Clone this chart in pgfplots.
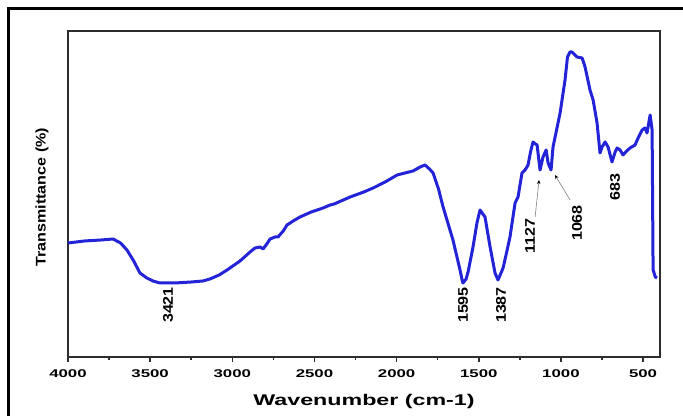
\documentclass[border=0pt]{standalone}
\usepackage{fontspec}
\setmainfont{Liberation Sans}
\usepackage{pgfplots}
\pgfplotsset{compat=1.18}
\usetikzlibrary{arrows.meta}
\definecolor{curve}{RGB}{35,35,215}
\definecolor{axc}{RGB}{45,45,45}
\newcommand{\pk}{\fontsize{14bp}{16bp}\selectfont\bfseries}
\begin{document}
\begin{tikzpicture}
\useasboundingbox (0bp,0bp) rectangle (683bp,416bp);
\draw[line width=3bp] (8.5bp,-10bp) -- (8.5bp,407.5bp) -- (700bp,407.5bp);
\begin{axis}[at={(68bp,59bp)}, anchor=south west, scale only axis,
  width=592bp, height=326bp,
  x dir=reverse, xmin=397, xmax=4000, ymin=0, ymax=326,
  xtick={500,1000,...,4000}, minor xtick={750,1250,...,3750}, ytick=\empty,
  xtick pos=left, tick align=outside,
  major tick length=5bp, minor tick length=3bp,
  axis line style={line width=2bp, color=axc},
  every tick/.style={line width=1.5bp, color=axc},
  /pgf/number format/1000 sep={},
  xticklabel style={font=\fontsize{11.2bp}{13bp}\selectfont\bfseries, inner sep=1bp, yshift=-6bp},
  xticklabel={\scalebox{1.5}[1]{\pgfmathprintnumber[assume math mode=true]{\tick}}},
  xlabel={\scalebox{1.5}[1]{Wavenumber (cm-1)}},
  every axis x label/.style={at={(axis description cs:0.5,0)}, anchor=center, yshift=-44bp,
     font=\fontsize{15.5bp}{18bp}\selectfont\bfseries},
  ylabel={\scalebox{1.15}[1]{Transmittance (\%)}},
  every axis y label/.style={at={([xshift=-26bp]axis description cs:0,0.49)}, anchor=center, rotate=90,
     font=\fontsize{14bp}{16bp}\selectfont\bfseries},
]
\addplot[curve, line width=3bp, line join=round] coordinates {
(4000,114) (3900,116) (3800,117) (3726,118) (3680,114) (3641,107) (3600,96)
(3562,84) (3520,79) (3483,76) (3440,74) (3350,74) (3250,75) (3180,76)
(3136,78) (3080,82) (3032,87) (2953,96) (2892,105) (2862,109) (2830,110)
(2813,108) (2790,113) (2770,118) (2740,120) (2722,120) (2690,126) (2667,132)
(2620,137) (2588,140) (2520,145) (2448,149) (2405,152) (2380,153) (2283,160)
(2200,165) (2143,169) (2070,175) (1997,182) (1950,184) (1900,186) (1857,190)
(1827,192) (1800,188) (1778,184) (1745,168) (1717,150) (1657,117) (1614,87)
(1600,76) (1596,74) (1577,78) (1565,85) (1535,110) (1510,135) (1492,147)
(1475,143) (1462,140) (1431,110) (1401,84) (1383,77) (1370,82) (1352,89)
(1330,105) (1310,120) (1279,154) (1261,160) (1237,184) (1218,187) (1200,192)
(1185,205) (1170,215) (1155,213) (1145,212) (1127,187) (1109,200) (1090,207)
(1078,194) (1060,187) (1048,210) (1005,244) (975,277) (960,300) (945,305) (932,305)
(915,302) (902,300) (871,299) (853,290) (823,267) (804,257) (780,234)
(762,204) (750,210) (731,215) (713,210) (689,195) (670,205) (658,209)
(640,207) (622,202) (600,206) (579,209) (549,212) (530,219) (506,227)
(488,229) (476,224) (457,242) (445,227) (439,87) (425,80) (415,79)
};
\node[rotate=90, font=\pk] at (axis cs:3391,52) {\scalebox{1.15}[1]{3421}};
\node[rotate=90, font=\pk] at (axis cs:1596,52) {\scalebox{1.15}[1]{1595}};
\node[rotate=90, font=\pk] at (axis cs:1364,52) {\scalebox{1.15}[1]{1387}};
\node[rotate=90, font=\pk] at (axis cs:1188,121) {\scalebox{1.15}[1]{1127}};
\node[rotate=90, font=\pk] at (axis cs:902,134) {\scalebox{1.15}[1]{1068}};
\node[rotate=90, font=\pk] at (axis cs:670,170) {\scalebox{1.15}[1]{683}};
\draw[gray, line width=0.6bp, -{Stealth[length=4bp,width=3.5bp,black]}] (axis cs:1157,140) -- (axis cs:1133,177);
\draw[gray, line width=0.6bp, -{Stealth[length=4bp,width=3.5bp,black]}] (axis cs:944,157) -- (axis cs:1036,182);
\end{axis}
\end{tikzpicture}
\end{document}
